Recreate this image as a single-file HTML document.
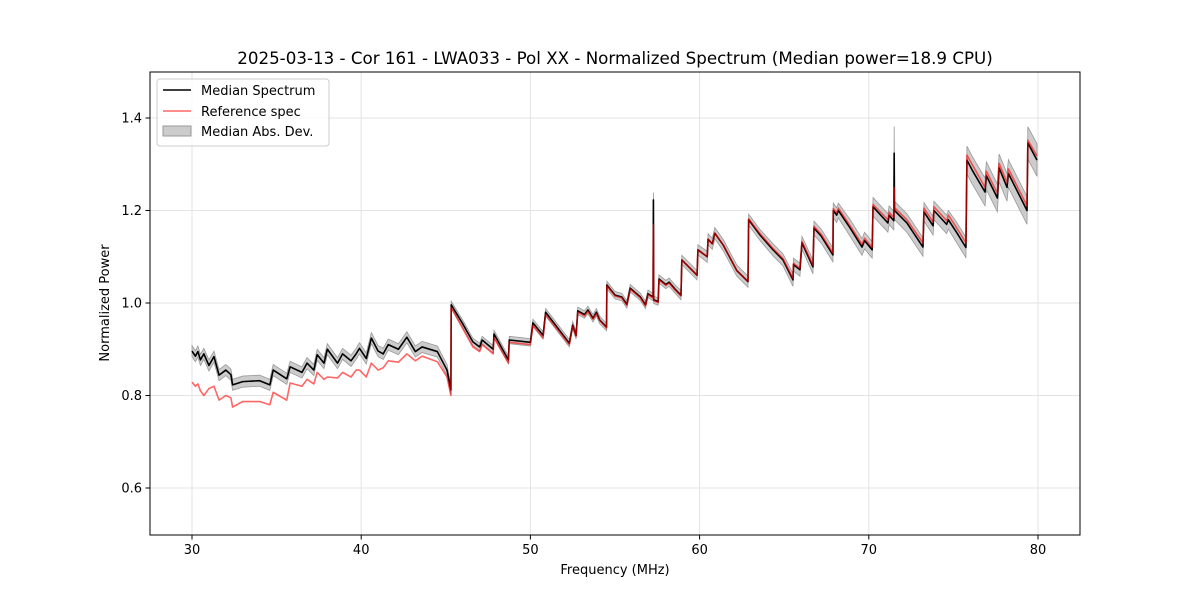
<!DOCTYPE html>
<html><head><meta charset="utf-8"><style>
body{margin:0;background:#fff;}
svg text{font-family:"DejaVu Sans","Liberation Sans",sans-serif;}
</style></head><body>
<svg id="chart" width="1200" height="600" xmlns="http://www.w3.org/2000/svg">
<rect width="1200" height="600" fill="#fff"/>
<text x="615" y="64" font-size="16.7" text-anchor="middle">2025-03-13 - Cor 161 - LWA033 - Pol XX - Normalized Spectrum (Median power=18.9 CPU)</text>
<g id="grid"></g>
<g id="plot"></g>
<rect x="150" y="72" width="930" height="463" fill="none" stroke="#000" stroke-width="1"/>
<g id="ticks"></g>
<text x="615" y="574" font-size="13" text-anchor="middle">Frequency (MHz)</text>
<text transform="translate(109,303) rotate(-90)" font-size="13" text-anchor="middle">Normalized Power</text>
<g>
<rect x="157" y="79" width="172" height="67" rx="3" fill="#fff" fill-opacity="0.8" stroke="#ccc"/>
<g><line x1="163" y1="90" x2="191" y2="90" stroke="#000" stroke-width="1.5"/><text x="201" y="95" font-size="13">Median Spectrum</text></g>
<g><line x1="163" y1="111" x2="191" y2="111" stroke="#ff6666" stroke-width="1.5"/><text x="201" y="116" font-size="13">Reference spec</text></g>
<g><rect x="163" y="126" width="28" height="10" fill="#ccc" stroke="#999"/><text x="201" y="136" font-size="13">Median Abs. Dev.</text></g>
</g>
</svg>
<script>
const freqs=[30.0,30.2,30.35,30.5,30.7,31.0,31.3,31.6,32.0,32.3,32.4,33.0,34.0,34.6,34.8,35.6,35.8,36.5,36.8,37.2,37.4,37.8,38.0,38.6,38.9,39.4,39.7,39.9,40.3,40.6,41.0,41.3,41.6,42.2,42.7,43.2,43.6,44.5,45.07,45.3,
45.32,46.0,46.6,47.0,47.15,47.8,47.85,48.7,48.75,50.0,50.15,50.75,50.9,52.3,52.5,52.7,52.8,53.2,53.4,53.7,53.9,54.1,54.5,54.52,55.0,55.4,55.7,55.9,56.5,56.8,56.95,57.25,57.27,57.29,57.55,57.6,58.0,58.2,58.55,58.9,58.95,59.85,59.9,60.45,60.5,60.75,60.9,61.4,62.2,62.86,
62.9,63.57,64.34,64.93,65.52,65.55,65.93,66.05,66.7,66.76,67.2,67.88,67.9,68.1,68.2,68.9,69.6,69.75,70.2,70.25,71.13,71.2,71.48,71.5,71.52,72.25,73.2,73.26,73.8,73.85,74.6,74.7,75.2,75.74,75.8,76.1,76.87,76.95,77.6,77.7,78.17,78.25,79.35,79.4,79.94];
const median=[.896,.885,.895,.877,.89,.865,.884,.844,.855,.845,.823,.83,.832,.823,.855,.836,.862,.85,.87,.855,.888,.87,.9,.87,.89,.875,.89,.902,.88,.924,.896,.89,.91,.9,.926,.895,.905,.895,.855,.812,
.996,.955,.916,.905,.92,.9,.933,.877,.92,.915,.957,.93,.98,.913,.952,.93,.983,.975,.985,.967,.98,.963,.948,1.039,1.017,1.013,.997,1.032,1.013,.996,1.02,1.013,1.223,1.007,1.003,1.052,1.04,1.045,1.03,1.017,1.093,1.06,1.115,1.1,1.138,1.128,1.151,1.125,1.07,1.046,
1.18,1.147,1.115,1.093,1.05,1.083,1.072,1.13,1.078,1.162,1.144,1.104,1.2,1.19,1.2,1.162,1.121,1.135,1.115,1.208,1.173,1.19,1.178,1.324,1.2,1.173,1.121,1.197,1.167,1.2,1.17,1.18,1.152,1.12,1.309,1.288,1.24,1.275,1.227,1.292,1.25,1.28,1.2,1.346,1.309];
const refSpec=[.829,.82,.825,.81,.80,.815,.82,.79,.80,.795,.775,.787,.787,.78,.807,.79,.827,.82,.835,.825,.85,.835,.84,.838,.85,.84,.855,.855,.84,.87,.855,.86,.875,.872,.89,.875,.885,.873,.84,.80,
.99,.945,.905,.895,.91,.89,.925,.87,.915,.91,.952,.925,.975,.91,.95,.928,.98,.972,.982,.965,.977,.962,.946,1.037,1.015,1.011,.995,1.03,1.011,.994,1.018,1.011,1.169,1.005,1.001,1.05,1.038,1.043,1.028,1.015,1.093,1.06,1.115,1.1,1.138,1.128,1.151,1.125,1.07,1.047,
1.182,1.15,1.118,1.096,1.053,1.086,1.075,1.133,1.082,1.166,1.148,1.108,1.204,1.195,1.205,1.167,1.127,1.14,1.12,1.213,1.18,1.196,1.185,1.249,1.206,1.18,1.13,1.205,1.175,1.208,1.178,1.19,1.162,1.13,1.32,1.3,1.25,1.285,1.237,1.302,1.26,1.29,1.21,1.352,1.318];
const mad=[.012,.012,.012,.012,.012,.012,.012,.012,.012,.012,.012,.012,.012,.012,.012,.012,.012,.012,.012,.012,.012,.012,.012,.012,.012,.012,.012,.012,.012,.012,.012,.012,.012,.012,.012,.012,.012,.012,.012,.01,
.008,.008,.008,.008,.008,.008,.008,.008,.008,.008,.008,.008,.008,.008,.008,.008,.008,.008,.008,.008,.008,.008,.008,.008,.008,.008,.008,.008,.008,.008,.008,.008,.016,.008,.008,.009,.009,.009,.009,.01,.01,.01,.011,.012,.012,.012,.012,.012,.012,.012,
.012,.012,.013,.013,.014,.014,.014,.014,.015,.015,.015,.015,.016,.016,.016,.018,.018,.018,.018,.02,.02,.02,.02,.058,.02,.02,.02,.02,.02,.02,.02,.02,.022,.022,.03,.03,.03,.03,.03,.03,.03,.03,.03,.035,.035];
const xTicks=[30,40,50,60,70,80];
const yTicks=[0.6,0.8,1.0,1.2,1.4];
const xs=f=>192+(f-30)*16.92;
const ys=v=>303-(v-1.0)*462.5;
const NS="http://www.w3.org/2000/svg";
const grid=document.getElementById('grid'),ticks=document.getElementById('ticks'),plot=document.getElementById('plot');
function mk(tag,attrs,parent){const e=document.createElementNS(NS,tag);for(const k in attrs)e.setAttribute(k,attrs[k]);parent.appendChild(e);return e;}
xTicks.forEach(t=>{const x=xs(t);
 const g=mk('line',{x1:x,x2:x,y1:72,y2:535,stroke:'#e3e3e3','stroke-width':1},grid);
 
 
 const tk=mk('line',{x1:x,x2:x,y1:535,y2:539.5,stroke:'#000'},ticks);
 
 
 const tx=mk('text',{x:x,y:554,'font-size':13,'text-anchor':'middle'},ticks);tx.textContent=t;
 
 
});
yTicks.forEach(t=>{const y=ys(t);
 const g=mk('line',{x1:150,x2:1080,y1:y,y2:y,stroke:'#e3e3e3','stroke-width':1},grid);
 
 
 const tk=mk('line',{x1:145.5,x2:150,y1:y,y2:y,stroke:'#000'},ticks);
 
 
 const tx=mk('text',{x:142,y:y+4.5,'font-size':13,'text-anchor':'end'},ticks);tx.textContent=t.toFixed(1);
 
 
});
let up=freqs.map((f,i)=>xs(f)+','+ys(median[i]+mad[i]));
let dn=freqs.map((f,i)=>xs(f)+','+ys(median[i]-mad[i])).reverse();
const band=mk('polygon',{points:up.concat(dn).join(' '),fill:'#bbbbbb','fill-opacity':0.75,stroke:'#999','stroke-width':0.8},plot);


const ml=mk('polyline',{points:freqs.map((f,i)=>xs(f)+','+ys(median[i])).join(' '),fill:'none',stroke:'#000','stroke-width':1.6,'stroke-linejoin':'round'},plot);


const rl=mk('polyline',{points:freqs.map((f,i)=>xs(f)+','+ys(refSpec[i])).join(' '),fill:'none',stroke:'#ff0000','stroke-opacity':0.6,'stroke-width':1.6,'stroke-linejoin':'round'},plot);


</script>
</body></html>
